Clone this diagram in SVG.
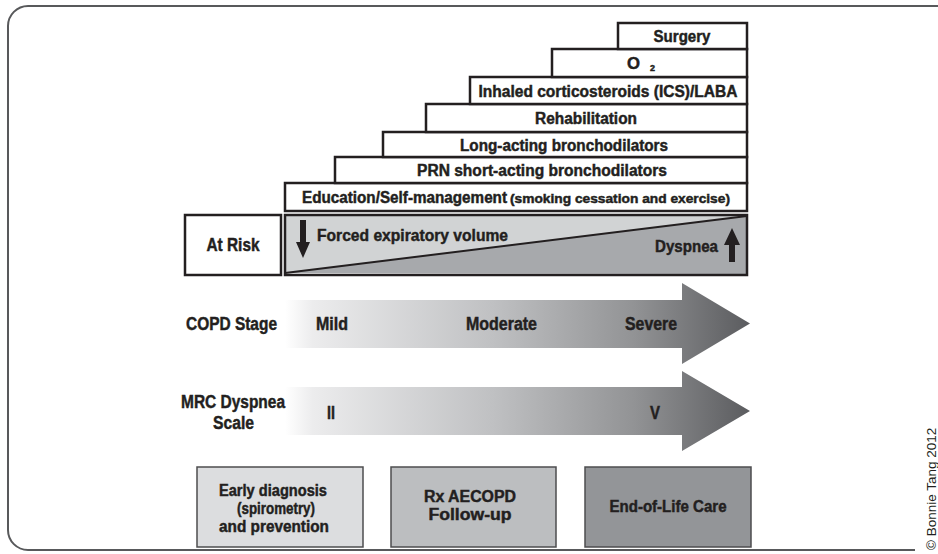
<svg xmlns="http://www.w3.org/2000/svg" width="938" height="554" viewBox="0 0 938 554">
<style>
.t{font-family:"Liberation Sans",Arial,sans-serif;font-weight:bold;fill:#231f20;stroke:#231f20;stroke-width:0.45;}
.c{text-anchor:middle;}
.stair{fill:#fff;stroke:#231f20;stroke-width:2.5;}
.box{stroke:#4d4d4f;stroke-width:1.5;}
</style>
<defs>
<linearGradient id="g" gradientUnits="userSpaceOnUse" x1="285" y1="0" x2="750" y2="0">
<stop offset="0" stop-color="#ffffff"/>
<stop offset="0.06" stop-color="#ececed"/>
<stop offset="0.45" stop-color="#bfc0c2"/>
<stop offset="0.75" stop-color="#929395"/>
<stop offset="1" stop-color="#5b5c5f"/>
</linearGradient>
</defs>
<rect width="938" height="554" fill="#fff"/>
<path d="M938,6 H28 A20,20 0 0 0 8,26 V530 A20,20 0 0 0 28,550 H915" fill="none" stroke="#58595b" stroke-width="2"/>

<g id="stairs">
<g id="education"><rect class="stair" x="285" y="183" width="462" height="28"/>
<text class="t" x="302" y="203" font-size="16" textLength="205" lengthAdjust="spacingAndGlyphs">Education/Self-management</text>
<text class="t" x="510" y="203" font-size="12.5" textLength="220" lengthAdjust="spacingAndGlyphs">(smoking cessation and exercise)</text></g>
<g id="prn"><rect class="stair" x="335" y="157" width="412" height="26"/>
<text class="t c" x="542" y="176" font-size="16" textLength="250" lengthAdjust="spacingAndGlyphs">PRN short-acting bronchodilators</text></g>
<g id="longacting"><rect class="stair" x="383" y="132" width="364" height="25"/>
<text class="t c" x="564" y="150.5" font-size="16" textLength="208" lengthAdjust="spacingAndGlyphs">Long-acting bronchodilators</text></g>
<g id="rehab"><rect class="stair" x="426" y="104" width="321" height="28"/>
<text class="t c" x="586" y="124" font-size="16" textLength="102" lengthAdjust="spacingAndGlyphs">Rehabilitation</text></g>
<g id="ics"><rect class="stair" x="470" y="77" width="277" height="27"/>
<text class="t c" x="608" y="96.5" font-size="16" textLength="259" lengthAdjust="spacingAndGlyphs">Inhaled corticosteroids (ICS)/LABA</text></g>
<g id="o2"><rect class="stair" x="552" y="49" width="195" height="28"/>
<text class="t" x="627" y="69" font-size="16" textLength="13" lengthAdjust="spacingAndGlyphs">O</text>
<text class="t" x="650" y="71" font-size="9">2</text></g>
<g id="surgery"><rect class="stair" x="618" y="23" width="129" height="26"/>
<text class="t c" x="682" y="42" font-size="16" textLength="57" lengthAdjust="spacingAndGlyphs">Surgery</text></g>
</g>

<g id="atrisk"><rect x="185" y="215" width="96" height="60" fill="#fff" stroke="#231f20" stroke-width="2.5"/>
<text class="t c" x="233" y="251" font-size="18" textLength="53" lengthAdjust="spacingAndGlyphs">At Risk</text></g>

<g id="fev-dyspnea">
<polygon points="285,216 747,216 285,273" fill="#d1d3d4"/>
<polygon points="285,273 747,216 747,274" fill="#a7a9ac"/>
<line x1="285" y1="273" x2="747" y2="216" stroke="#231f20" stroke-width="2"/>
<rect x="285" y="215" width="462" height="60" fill="none" stroke="#231f20" stroke-width="2.5"/>
<polygon points="300,220 306,220 306,242 310,242 303,258 296,242 300,242" fill="#231f20"/>
<text class="t" x="317" y="241" font-size="17" textLength="191" lengthAdjust="spacingAndGlyphs">Forced expiratory volume</text>
<polygon points="729,262 735,262 735,245 740,245 732,228 724,245 729,245" fill="#231f20"/>
<text class="t" x="655" y="252" font-size="17" textLength="63" lengthAdjust="spacingAndGlyphs">Dyspnea</text>
</g>

<g id="copd-stage">
<polygon points="285,300 682,300 682,283 750,323.5 682,364 682,348 285,348" fill="url(#g)"/>
<text class="t c" x="231.5" y="329.5" font-size="18" textLength="91" lengthAdjust="spacingAndGlyphs">COPD Stage</text>
<text class="t" x="316" y="329.5" font-size="18" textLength="32" lengthAdjust="spacingAndGlyphs">Mild</text>
<text class="t" x="466" y="329.5" font-size="18" textLength="71" lengthAdjust="spacingAndGlyphs">Moderate</text>
<text class="t" x="625" y="329.5" font-size="18" textLength="52" lengthAdjust="spacingAndGlyphs">Severe</text>
</g>

<g id="mrc-scale">
<polygon points="285,387 682,387 682,371 750,411 682,451 682,435 285,435" fill="url(#g)"/>
<text class="t c" x="233" y="408" font-size="18" textLength="104" lengthAdjust="spacingAndGlyphs">MRC Dyspnea</text>
<text class="t c" x="233.5" y="429" font-size="18" textLength="41" lengthAdjust="spacingAndGlyphs">Scale</text>
<text class="t" x="327" y="418.5" font-size="18" textLength="8" lengthAdjust="spacingAndGlyphs">II</text>
<text class="t" x="650" y="418.5" font-size="18" textLength="10" lengthAdjust="spacingAndGlyphs">V</text>
</g>

<g id="care">
<g id="early"><rect class="box" x="197" y="467" width="166" height="80" fill="#dcdddf"/>
<text class="t c" x="273" y="496" font-size="16" textLength="108" lengthAdjust="spacingAndGlyphs">Early diagnosis</text>
<text class="t c" x="276" y="514" font-size="16" textLength="78" lengthAdjust="spacingAndGlyphs">(spirometry)</text>
<text class="t c" x="274" y="532" font-size="16" textLength="110" lengthAdjust="spacingAndGlyphs">and prevention</text></g>
<g id="rx"><rect class="box" x="391" y="467" width="165" height="80" fill="#bcbec0"/>
<text class="t c" x="470" y="502" font-size="16" textLength="92" lengthAdjust="spacingAndGlyphs">Rx AECOPD</text>
<text class="t c" x="470" y="520" font-size="16" textLength="83" lengthAdjust="spacingAndGlyphs">Follow-up</text></g>
<g id="eol"><rect class="box" x="585" y="467" width="166" height="80" fill="#939598"/>
<text class="t c" x="668" y="511.5" font-size="16" textLength="117" lengthAdjust="spacingAndGlyphs">End-of-Life Care</text></g>
</g>

<text x="936" y="550" transform="rotate(-90 936 550)" font-family="'Liberation Sans',Arial,sans-serif" font-size="13.5" fill="#231f20">© Bonnie Tang 2012</text>
</svg>
